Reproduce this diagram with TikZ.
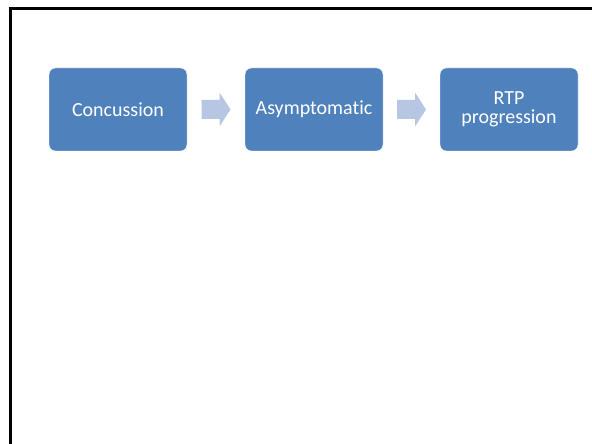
\documentclass[tikz,border=0pt]{standalone}
\usepackage{fontspec}
\setmainfont[Ligatures=NoCommon]{Carlito}
\usetikzlibrary{calc}
\definecolor{stepblue}{HTML}{4F81BD}
\definecolor{arrowblue}{HTML}{B7C7E3}
\tikzset{
  stepbox/.style={rectangle, rounded corners=6.5pt, fill=stepblue, draw=white, line width=0.4pt,
    minimum width=138pt, minimum height=83pt, inner sep=2pt, text=white, align=center,
    font=\fontsize{20}{19}\selectfont},
  blockarrow/.style={fill=arrowblue},
  frameline/.style={line width=2.6pt, black}
}
\begin{document}
\begin{tikzpicture}[x=1pt, y=1pt]
  \useasboundingbox (0,0) rectangle (592,444);
  % slide frame (left and top edges)
  \draw[frameline] (10.5,0) -- (10.5,435.3) -- (592,435.3);
  % process steps
  \node[stepbox] (s1) at (118,334.5) {Concussion};
  \node[stepbox] (s2) at (314,334.5) {Asymptomatic};
  \node[stepbox] (s3) at (509,334.5) {RTP\\progression};
  % block arrows between steps
  \coordinate (m1) at ($(s1.east)!0.5!(s2.west)$);
  \coordinate (m2) at ($(s2.east)!0.5!(s3.west)$);
  \foreach \m in {m1,m2}{
    \fill[blockarrow] ([shift={(-14.5,-9.5)}]\m) -- ([shift={(3.5,-9.5)}]\m)
      -- ([shift={(3.5,-17)}]\m) -- ([shift={(14.5,0)}]\m) -- ([shift={(3.5,17)}]\m)
      -- ([shift={(3.5,9.5)}]\m) -- ([shift={(-14.5,9.5)}]\m) -- cycle;
  }
\end{tikzpicture}
\end{document}
